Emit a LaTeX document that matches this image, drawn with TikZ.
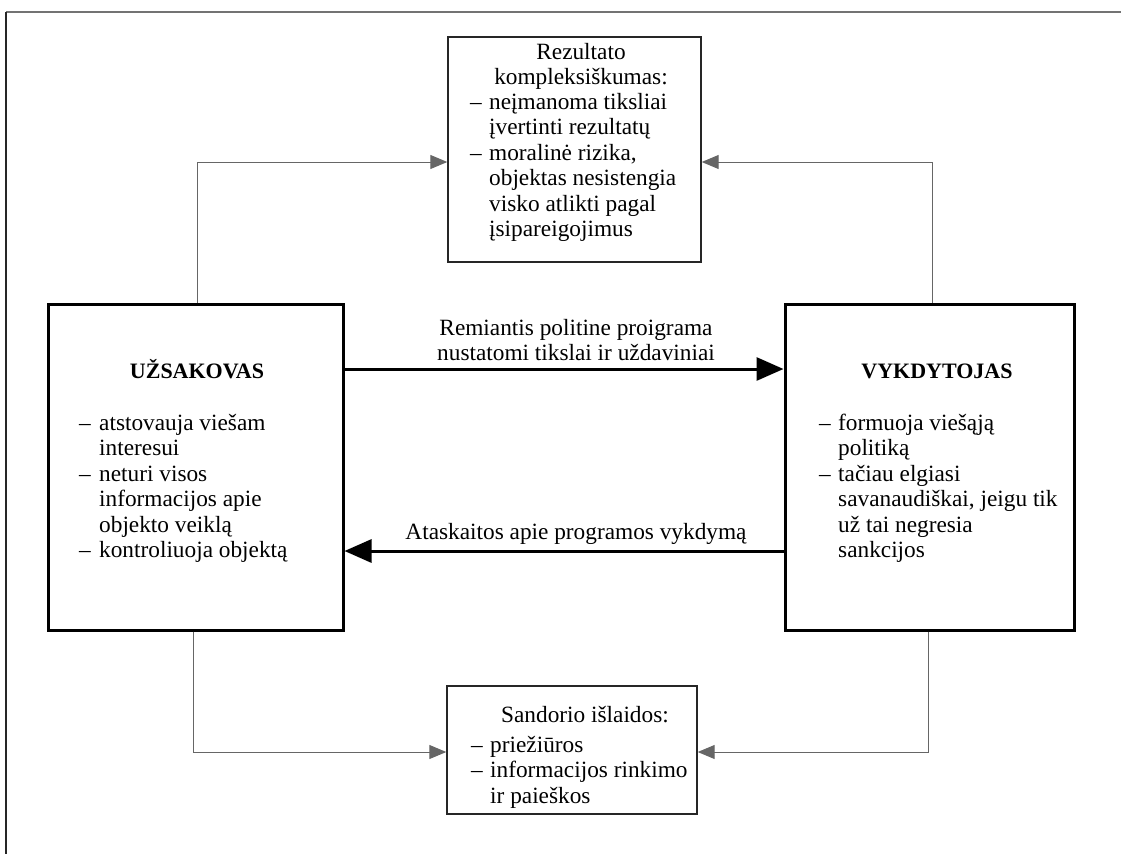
\documentclass[tikz,border=0pt]{standalone}
\usepackage{fontspec}
\setmainfont{Liberation Serif}
\usetikzlibrary{arrows.meta}
\newcommand\dsh[1]{\makebox[#1][l]{–}}
\newcommand\ind[1]{\hspace*{#1}}
\newcommand\blk[2]{\parbox[t]{#1}{\raggedright #2}}
\newcommand\cblk[2]{\parbox[t]{#1}{\centering #2}}
\tikzset{
  bigbox/.style={draw=black, line width=3pt, inner sep=0pt},
  smallbox/.style={draw=black!85, line width=1.4pt, inner sep=0pt},
  txt/.style={inner sep=0pt, anchor=base west},
  ctxt/.style={inner sep=0pt, anchor=base},
  ttl/.style={inner sep=0pt, anchor=base, font=\fontsize{22}{25.5}\selectfont\bfseries},
  conn/.style={draw=black!60, line width=1pt, -{Triangle[length=17pt,width=14pt]}},
  mainarrow/.style={draw=black, line width=3pt, -{Triangle[length=27pt,width=23pt]}},
}
\begin{document}
\begin{tikzpicture}[x=1pt,y=-1pt,font=\fontsize{23.3}{25.5}\selectfont]
\useasboundingbox (0,0) rectangle (1121,854);
% outer frame
\draw[black!55, line width=2pt] (6,12) -- (1121,12);
\draw[black!85, line width=1.6pt] (6,12) -- (6,854);

% boxes
\node[bigbox, minimum width=295pt, minimum height=326pt] (L) at (195.5,467) {};
\node[bigbox, minimum width=289pt, minimum height=326pt] (R) at (929.5,467) {};
\node[smallbox, minimum width=253pt, minimum height=225pt] (T) at (574.5,149.5) {};
\node[smallbox, minimum width=250pt, minimum height=128pt] (B) at (572,750) {};

% texts in left box
\node[ttl] (Lt) at (197,378) {UŽSAKOVAS};
\node[txt] (Li) at (79,430) {\blk{270pt}{\dsh{20pt}atstovauja viešam\\
\ind{20pt}interesui\\
\dsh{20pt}neturi visos\\
\ind{20pt}informacijos apie\\
\ind{20pt}objekto veiklą\\
\dsh{20pt}kontroliuoja objektą}};

% texts in right box
\node[ttl] (Rt) at (937,378) {VYKDYTOJAS};
\node[txt] (Ri) at (819,430) {\blk{270pt}{\dsh{19pt}formuoja viešąją\\
\ind{19pt}politiką\\
\dsh{19pt}tačiau elgiasi\\
\ind{19pt}savanaudiškai, jeigu tik\\
\ind{19pt}už tai negresia\\
\ind{19pt}sankcijos}};

% texts in top box
\node[ctxt] (Tt) at (581,59) {\cblk{240pt}{Rezultato\\kompleksiškumas:}};
\node[txt] (Ti) at (470,109) {\blk{240pt}{\dsh{19pt}neįmanoma tiksliai\\
\ind{19pt}įvertinti rezultatų\\
\dsh{19pt}moralinė rizika,\\
\ind{19pt}objektas nesistengia\\
\ind{19pt}visko atlikti pagal\\
\ind{19pt}įsipareigojimus}};

% texts in bottom box
\node[ctxt] (Bt) at (585,722) {Sandorio išlaidos:};
\node[txt] (Bi) at (471,752) {\blk{240pt}{\dsh{19pt}priežiūros\\
\dsh{19pt}informacijos rinkimo\\
\ind{19pt}ir paieškos}};

% main arrows
\coordinate (ya) at (0,369);
\coordinate (yb) at (0,551);
\draw[mainarrow] (L.east |- ya) -- (R.west |- ya);
\draw[mainarrow] (R.west |- yb) -- (L.east |- yb);
\node[ctxt] (la) at (576,335) {\cblk{420pt}{Remiantis politine proigrama\\nustatomi tikslai ir uždaviniai}};
\node[ctxt] (lb) at (576,539) {Ataskaitos apie programos vykdymą};

% side connectors
\coordinate (c1) at (197,162);
\coordinate (c2) at (932,162);
\coordinate (c3) at (193,752);
\coordinate (c4) at (928,752);
\draw[conn] (L.north -| c1) -- (c1) -- (c1 -| T.west);
\draw[conn] (R.north -| c2) -- (c2) -- (c2 -| T.east);
\draw[conn] (L.south -| c3) -- (c3) -- (c3 -| B.west);
\draw[conn] (R.south -| c4) -- (c4) -- (c4 -| B.east);
\end{tikzpicture}
\end{document}
